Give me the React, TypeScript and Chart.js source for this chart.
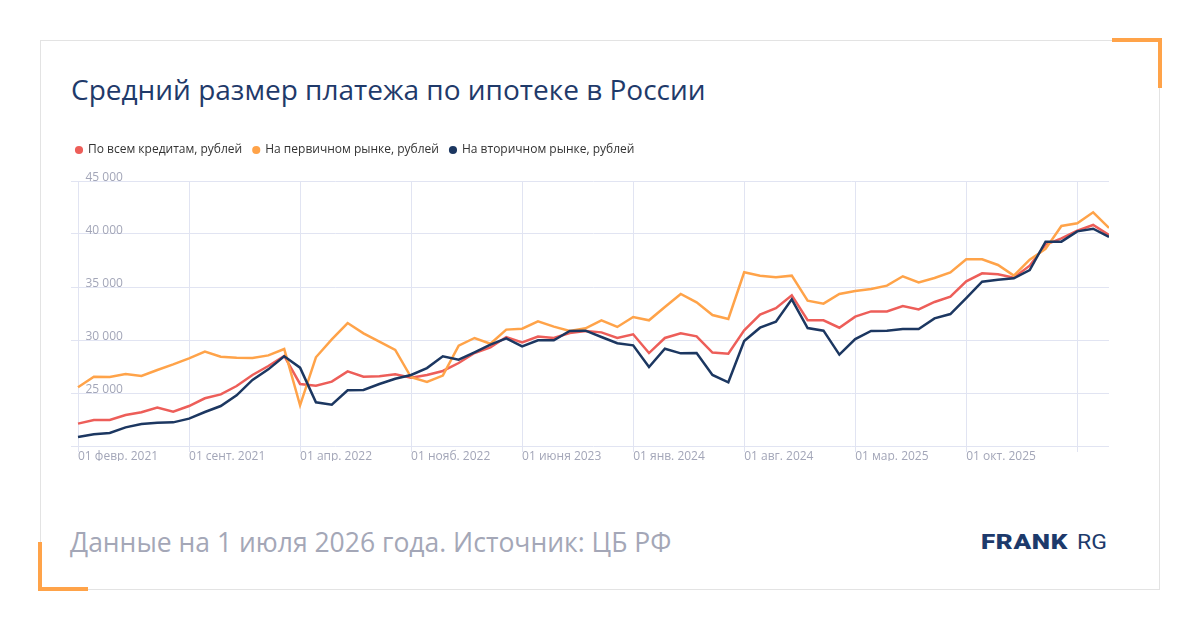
import React, { useEffect, useRef } from 'react';
import { Chart, registerables } from 'chart.js';

Chart.register(...registerables);

// ---------- data ----------
const MONTH_ABBR = ['янв.', 'февр.', 'мар.', 'апр.', 'мая', 'июня', 'июля', 'авг.', 'сент.', 'окт.', 'нояб.', 'дек.'];
const FIRST_YEAR = 2021;
const FIRST_MONTH_INDEX = 1; // February
const POINT_COUNT = 66;
const CATEGORIES = Array.from({ length: POINT_COUNT }, (_, i) => {
  const m = FIRST_MONTH_INDEX + i;
  return `01 ${MONTH_ABBR[m % 12]} ${FIRST_YEAR + Math.floor(m / 12)}`;
});
const LABEL_EVERY = 7;
const HIDDEN_LABEL_INDEXES = [63];

const Y_MIN = 20000;
const Y_MAX = 45000;
const Y_STEP = 5000;
const Y_HIDDEN_TICKS = [20000];

const SERIES_NAMES = ['По всем кредитам, рублей', 'На первичном рынке, рублей', 'На вторичном рынке, рублей'];

const ALL_LOANS = [
  22110, 22450, 22450, 22920, 23180, 23620, 23240, 23770, 24500, 24870,
  25660, 26700, 27550, 28490, 25850, 25690, 26070, 27040, 26540, 26570,
  26760, 26450, 26700, 27080, 27830, 28770, 29310, 30280, 29780, 30320,
  30190, 30660, 30850, 30720, 30190, 30540, 28770, 30190, 30630, 30350,
  28810, 28710, 30910, 32390, 33000, 34210, 31860, 31860, 31160, 32200,
  32700, 32700, 33210, 32890, 33590, 34090, 35540, 36290, 36200, 35880,
  37010, 38990, 39590, 40320, 40850, 39910,
];

const PRIMARY_MARKET = [
  25540, 26540, 26510, 26790, 26600, 27170, 27700, 28270, 28900, 28430,
  28330, 28300, 28550, 29150, 23840, 28370, 30060, 31600, 30630, 29840,
  29060, 26480, 26040, 26640, 29470, 30190, 29650, 30980, 31070, 31760,
  31260, 30850, 31100, 31860, 31230, 32170, 31860, 33110, 34340, 33550,
  32360, 31980, 36390, 36070, 35910, 36070, 33710, 33430, 34340, 34620,
  34810, 35130, 36010, 35440, 35850, 36380, 37610, 37610, 37080, 36070,
  37580, 38590, 40760, 41010, 42050, 40570,
];

const SECONDARY_MARKET = [
  20850, 21100, 21230, 21760, 22080, 22200, 22230, 22580, 23210, 23770,
  24780, 26230, 27230, 28460, 27390, 24120, 23900, 25250, 25280, 25850,
  26350, 26700, 27350, 28460, 28150, 28840, 29560, 30160, 29400, 29970,
  29970, 30850, 30880, 30280, 29690, 29500, 27450, 29180, 28740, 28770,
  26700, 26010, 29910, 31160, 31730, 33840, 31130, 30880, 28620, 30090,
  30850, 30880, 31040, 31040, 32040, 32450, 33960, 35500, 35690, 35820,
  36600, 39280, 39280, 40250, 40500, 39720,
];

// ---------- styles ----------
const RED = '#ED5E59';
const ORANGE = '#FFA349';
const NAVY = '#1C3761';
const GRID = '#E1E4F2';
const TICK_TEXT = '#A3A6B8';
const FONT = "'Open Sans', 'Noto Sans', sans-serif";

const formatThousands = (v: number) => String(v).replace(/\B(?=(\d{3})+(?!\d))/g, ' ');

const legendSpacer = {
  id: 'legendSpacer',
  beforeInit(chart: any) {
    const legend = chart.legend;
    if (!legend) return;
    const origFit = legend.fit;
    legend.fit = function fit() {
      origFit.call(this);
      this.height += 15;
    };
  },
};

function LineChart() {
  const ref = useRef<HTMLCanvasElement | null>(null);
  useEffect(() => {
    if (!ref.current) return;
    const makeDs = (label: string, data: number[], color: string, order: number) => ({
      label,
      data,
      borderColor: color,
      backgroundColor: color,
      pointBackgroundColor: color,
      pointBorderColor: color,
      borderWidth: 2.5,
      pointRadius: 0,
      pointHoverRadius: 0,
      tension: 0,
      fill: false,
      order,
    });
    const chart = new Chart(ref.current, {
      type: 'line',
      data: {
        labels: CATEGORIES,
        datasets: [
          makeDs(SERIES_NAMES[0], ALL_LOANS, RED, 3),
          makeDs(SERIES_NAMES[1], PRIMARY_MARKET, ORANGE, 2),
          makeDs(SERIES_NAMES[2], SECONDARY_MARKET, NAVY, 1),
        ],
      },
      options: {
        responsive: false,
        animation: false,
        maintainAspectRatio: false,
        layout: { padding: 0 },
        plugins: {
          tooltip: { enabled: false },
          legend: {
            display: true,
            position: 'top',
            align: 'start',
            labels: {
              usePointStyle: true,
              pointStyle: 'circle',
              boxWidth: 6,
              boxHeight: 4,
              padding: 11,
              color: '#333333',
              font: { family: FONT, size: 12 },
              sort: (a: any, b: any) => a.datasetIndex - b.datasetIndex,
            },
          },
        },
        scales: {
          x: {
            type: 'category',
            offset: false,
            border: { display: false },
            grid: {
              color: (ctx: any) => (ctx.index % LABEL_EVERY === 0 ? GRID : 'rgba(0,0,0,0)'),
              lineWidth: 1,
              drawTicks: true,
              tickLength: 6,
            },
            ticks: {
              autoSkip: false,
              maxRotation: 0,
              minRotation: 0,
              align: 'start',
              padding: -3,
              color: TICK_TEXT,
              font: { family: FONT, size: 12, lineHeight: 1.25 },
              callback: (_v: any, index: number) =>
                index % LABEL_EVERY === 0 && !HIDDEN_LABEL_INDEXES.includes(index) ? CATEGORIES[index] : '',
            },
          },
          y: {
            type: 'linear',
            position: 'left',
            min: Y_MIN,
            max: Y_MAX,
            border: { display: false },
            afterFit: (scale: any) => {
              scale.width = 13;
            },
            grid: {
              color: GRID,
              lineWidth: 1,
              drawTicks: true,
              tickLength: 7,
            },
            ticks: {
              stepSize: Y_STEP,
              mirror: true,
              padding: 7.5,
              labelOffset: -3.5,
              color: TICK_TEXT,
              font: { family: FONT, size: 12, lineHeight: 1.25 },
              callback: (v: any) => (Y_HIDDEN_TICKS.includes(Number(v)) ? '' : formatThousands(Number(v))),
            },
          },
        },
      },
      plugins: [legendSpacer],
    } as any);
    return () => chart.destroy();
  }, []);
  return (
    <canvas
      ref={ref}
      width={1044}
      height={328}
      style={{ position: 'absolute', left: 65, top: 133, width: 1044, height: 328 }}
    />
  );
}

export default function App() {
  const orange = ORANGE;
  return (
    <div
      style={{
        position: 'absolute',
        left: 0,
        top: 0,
        width: 1200,
        height: 630,
        background: '#ffffff',
        overflow: 'hidden',
        fontFamily: FONT,
      }}
    >
      {/* card */}
      <div
        style={{
          position: 'absolute',
          left: 40,
          top: 40,
          width: 1120,
          height: 550,
          border: '1px solid #E3E3E3',
          boxSizing: 'border-box',
        }}
      />
      {/* corner brackets */}
      <div style={{ position: 'absolute', left: 1112, top: 38, width: 50, height: 4, background: orange }} />
      <div style={{ position: 'absolute', left: 1158, top: 38, width: 4, height: 50, background: orange }} />
      <div style={{ position: 'absolute', left: 38, top: 542, width: 4, height: 49, background: orange }} />
      <div style={{ position: 'absolute', left: 38, top: 587, width: 50, height: 4, background: orange }} />

      {/* title */}
      <div
        style={{
          position: 'absolute',
          left: 71,
          top: 75,
          fontSize: 28,
          lineHeight: '28px',
          color: '#1F3A6A',
          whiteSpace: 'nowrap',
        }}
      >
        Средний размер платежа по ипотеке в России
      </div>

      <LineChart />

      {/* footer */}
      <div
        style={{
          position: 'absolute',
          left: 70,
          top: 529,
          fontSize: 26.5,
          lineHeight: '26.5px',
          color: '#A4A7B7',
          whiteSpace: 'nowrap',
        }}
      >
        Данные на 1 июля 2026 года. Источник: ЦБ РФ
      </div>

      {/* logo */}
      <div
        style={{
          position: 'absolute',
          left: 981,
          top: 532,
          fontFamily: 'Roboto, sans-serif',
          fontWeight: 900,
          fontSize: 20,
          lineHeight: '20px',
          color: '#1D3A6B',
          whiteSpace: 'nowrap',
          transform: 'scaleX(1.3)',
          transformOrigin: 'left top',
          letterSpacing: 0.5,
        }}
      >
        FRANK
      </div>
      <div
        style={{
          position: 'absolute',
          left: 1077,
          top: 532,
          fontFamily: 'Roboto, sans-serif',
          fontWeight: 400,
          fontSize: 20,
          lineHeight: '20px',
          color: '#1D3A6B',
          whiteSpace: 'nowrap',
          transform: 'scaleX(1.15)',
          transformOrigin: 'left top',
        }}
      >
        RG
      </div>
    </div>
  );
}
